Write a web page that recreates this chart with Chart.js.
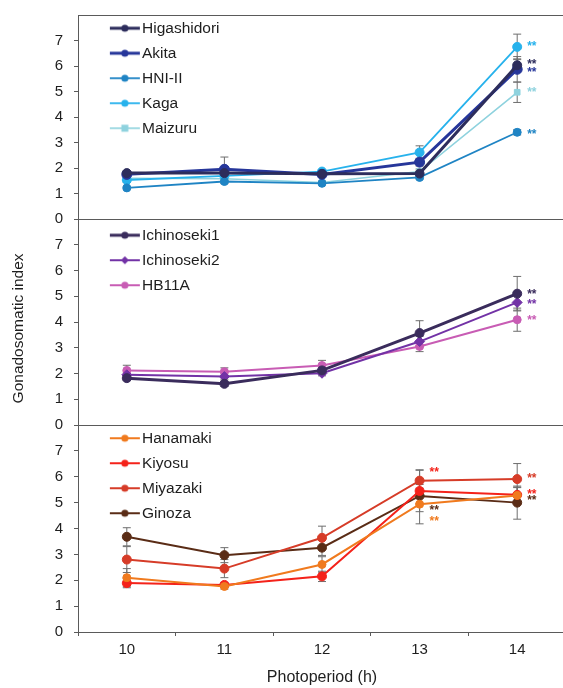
<!DOCTYPE html>
<html><head><meta charset="utf-8">
<script src="https://cdn.jsdelivr.net/npm/chart.js@4.4.1/dist/chart.umd.min.js"></script>
<style>
html,body{margin:0;padding:0;background:#fff;overflow:hidden;}
#wrap{position:relative;width:563px;height:688px;overflow:hidden;background:#fff;}
.pane{position:absolute;left:0;}
canvas{display:block;}
</style></head><body>
<div id="wrap">
<div class="pane" style="top:0px"><canvas id="cA" width="566" height="232"></canvas></div>
<div class="pane" style="top:212px"><canvas id="cB" width="566" height="222"></canvas></div>
<div class="pane" style="top:418px"><canvas id="cC" width="566" height="270"></canvas></div>
</div>
<script>
// ---------- data ----------
const categories = ['10', '11', '12', '13', '14'];
const yTicks = [0, 1, 2, 3, 4, 5, 6, 7];
const xTitle = 'Photoperiod (h)';
const yTitle = 'Gonadosomatic index';

// panel 1
const higashidori = [1.80, 1.80, 1.77, 1.78, 6.03];
const akita       = [1.75, 1.95, 1.75, 2.23, 5.87];
const hniII       = [1.22, 1.47, 1.40, 1.63, 3.40];
const kaga        = [1.53, 1.69, 1.86, 2.61, 6.75];
const maizuru     = [1.60, 1.58, 1.43, 1.86, 4.97];
const higashidoriErr = [0.08, 0.10, 0.08, 0.10, 0.25];
const akitaErr       = [0.08, 0.48, 0.10, 0.15, 0.50];
const hniIIErr       = [0.05, 0.08, 0.05, 0.06, 0.10];
const kagaErr        = [0.10, 0.10, 0.08, 0.26, 0.50];
const maizuruErr     = [0.08, 0.08, 0.06, 0.10, 0.40];

// panel 2
const ichinoseki1 = [1.82, 1.60, 2.12, 3.57, 5.10];
const ichinoseki2 = [1.95, 1.88, 2.01, 3.24, 4.76];
const hb11a       = [2.12, 2.07, 2.31, 3.05, 4.09];
const ichinoseki1Err = [0.10, 0.10, 0.15, 0.48, 0.67];
const ichinoseki2Err = [0.10, 0.10, 0.10, 0.20, 0.30];
const hb11aErr       = [0.20, 0.15, 0.20, 0.20, 0.45];

// panel 3
const hanamaki = [2.10, 1.76, 2.61, 4.94, 5.28];
const kiyosu   = [1.89, 1.82, 2.15, 5.45, 5.30];
const miyazaki = [2.80, 2.45, 3.64, 5.85, 5.91];
const ginoza   = [3.68, 2.97, 3.26, 5.26, 5.00];
const hanamakiErr = [0.35, 0.10, 0.30, 0.76, 0.30];
const kiyosuErr   = [0.18, 0.10, 0.20, 0.80, 0.30];
const miyazakiErr = [0.50, 0.35, 0.45, 0.42, 0.60];
const ginozaErr   = [0.35, 0.29, 0.30, 0.30, 0.64];

// significance marks: [series, category, value where the mark sits]
const sigTop = [['Kaga', '14', 6.88], ['Higashidori', '14', 6.17], ['Akita', '14', 5.86], ['Maizuru', '14', 5.07], ['HNI-II', '14', 3.42]];
const sigMid = [['Ichinoseki1', '14', 5.17], ['Ichinoseki2', '14', 4.79], ['HB11A', '14', 4.16]];
const sigBot = [['Kiyosu', '13', 6.26], ['Ginoza', '13', 4.82], ['Hanamaki', '13', 4.36], ['Miyazaki', '14', 6.03], ['Kiyosu', '14', 5.41], ['Ginoza', '14', 5.18]];

// ---------- styling ----------
const FONT = "'Liberation Sans', Arial, sans-serif";
const AXIS = '#5a5a5a';
const TEXT = '#1e1e1e';

function legendImage(color, lw, shape) {
  const c = document.createElement('canvas');
  c.width = 60; c.height = 14;
  const g = c.getContext('2d');
  g.strokeStyle = color; g.lineWidth = lw;
  g.beginPath(); g.moveTo(29, 7); g.lineTo(59, 7); g.stroke();
  g.fillStyle = color;
  g.beginPath();
  if (shape === 'rect') { g.rect(40.5, 3.5, 7, 7); }
  else if (shape === 'rectRot') { g.moveTo(44, 3); g.lineTo(48, 7); g.lineTo(44, 11); g.lineTo(40, 7); g.closePath(); }
  else { g.arc(44, 7, 3.6, 0, Math.PI * 2); }
  g.fill();
  return c;
}

function series(label, data, errors, color, lw, shape, radius) {
  return {
    label, data, errors,
    borderColor: color, backgroundColor: color,
    pointBackgroundColor: color, pointBorderColor: color,
    borderWidth: lw, pointRadius: radius || 4, pointBorderWidth: 1,
    pointStyle: shape || 'circle', tension: 0,
    legendImg: legendImage(color, lw, shape)
  };
}

const errorBars = {
  id: 'errorBars',
  beforeDatasetsDraw(chart) {
    const ctx = chart.ctx, ys = chart.scales.y;
    chart.data.datasets.forEach((ds, i) => {
      const meta = chart.getDatasetMeta(i);
      ds.errors.forEach((e, j) => {
        const x = meta.data[j].x;
        const y1 = ys.getPixelForValue(ds.data[j] + e);
        const y2 = ys.getPixelForValue(ds.data[j] - e);
        ctx.save();
        ctx.strokeStyle = '#6e6e6e'; ctx.lineWidth = 1;
        ctx.beginPath();
        ctx.moveTo(x, y1); ctx.lineTo(x, y2);
        ctx.moveTo(x - 4, y1); ctx.lineTo(x + 4, y1);
        ctx.moveTo(x - 4, y2); ctx.lineTo(x + 4, y2);
        ctx.stroke();
        ctx.restore();
      });
    });
  }
};

function sigPlugin(marks) {
  return {
    id: 'sigMarks',
    afterDatasetsDraw(chart) {
      const ctx = chart.ctx, xs = chart.scales.x, ys = chart.scales.y;
      marks.forEach(([name, cat, val]) => {
        const ds = chart.data.datasets.find(d => d.label === name);
        const x = xs.getPixelForValue(categories.indexOf(cat)) + 10;
        const y = ys.getPixelForValue(val) + 3;
        ctx.save();
        ctx.fillStyle = ds.borderColor;
        ctx.font = 'bold 12px ' + FONT;
        ctx.textAlign = 'left'; ctx.textBaseline = 'middle';
        ctx.fillText('**', x, y);
        ctx.restore();
      });
    }
  };
}

function makeChart(id, datasets, marks, opts) {
  const xScale = {
    type: 'category', offset: true, position: 'bottom',
    grid: { offset: true, drawOnChartArea: false, drawTicks: !!opts.bottom, tickLength: 4, color: AXIS },
    border: { color: AXIS, width: 1 },
    ticks: { display: !!opts.bottom, font: { family: FONT, size: 15 }, color: TEXT, padding: 5 },
    title: { display: !!opts.bottom, text: xTitle, font: { family: FONT, size: 16 }, color: TEXT, padding: { top: 4, bottom: 1 } },
    afterFit: s => { s.height = opts.bottom ? 56 : 0; s.paddingLeft = 0; s.paddingRight = 0; }
  };
  const scales = {
    x: xScale,
    y: {
      min: 0, max: 8,
      afterBuildTicks: s => { s.ticks = yTicks.map(v => ({ value: v })); },
      afterFit: s => { s.width = 78; s.paddingTop = 0; s.paddingBottom = 0; },
      grid: { drawOnChartArea: false, tickLength: 4, color: AXIS },
      border: { color: AXIS, width: 1 },
      ticks: { font: { family: FONT, size: 15 }, color: TEXT, padding: 11 },
      title: { display: !!opts.yTitle, text: yTitle + '   ', font: { family: FONT, size: 15.5 }, color: TEXT, padding: { top: 9, bottom: 0 } }
    }
  };
  if (opts.top) {
    scales.xt = {
      type: 'category', labels: categories, offset: true, position: 'top',
      afterFit: s => { s.height = 0; s.paddingLeft = 0; s.paddingRight = 0; },
      grid: { drawOnChartArea: false, drawTicks: false, color: AXIS },
      border: { color: AXIS, width: 1 },
      ticks: { display: false }
    };
  }
  return new Chart(document.getElementById(id), {
    type: 'line',
    data: { labels: categories, datasets },
    options: {
      responsive: false, animation: false, devicePixelRatio: 1,
      layout: { padding: opts.padding, autoPadding: false },
      scales,
      plugins: {
        tooltip: { enabled: false },
        legend: {
          position: 'chartArea', align: 'start', fullSize: false,
          title: { display: true, text: '', font: { size: 1, lineHeight: 1 }, padding: { top: opts.legendOffset, bottom: 0 } },
          labels: {
            usePointStyle: true, pointStyleWidth: 46.75, padding: 9.5,
            font: { family: FONT, size: 15.5 }, color: TEXT,
            generateLabels: chart => chart.data.datasets.map((ds, i) => ({
              text: ds.label, datasetIndex: i, hidden: false, fontColor: TEXT,
              pointStyle: ds.legendImg, lineWidth: 0,
              fillStyle: 'transparent', strokeStyle: 'transparent'
            }))
          }
        }
      }
    },
    plugins: [errorBars, sigPlugin(marks)]
  });
}

makeChart('cA', [
  series('Higashidori', higashidori, higashidoriErr, '#2d2d5c', 3, 'circle', 4.5),
  series('Akita', akita, akitaErr, '#26369a', 3, 'circle', 5),
  series('HNI-II', hniII, hniIIErr, '#1f84c4', 1.8, 'circle', 4),
  series('Kaga', kaga, kagaErr, '#27b2ec', 1.8, 'circle', 4.5),
  series('Maizuru', maizuru, maizuruErr, '#8ed2de', 1.6, 'rect', 4)
], sigTop, { top: true, legendOffset: 10, padding: { left: 0, right: 0, top: 15, bottom: 13 } });

makeChart('cB', [
  series('Ichinoseki1', ichinoseki1, ichinoseki1Err, '#3a2c5c', 3, 'circle', 4.5),
  series('Ichinoseki2', ichinoseki2, ichinoseki2Err, '#7232a6', 2, 'rectRot', 5),
  series('HB11A', hb11a, hb11aErr, '#c85cb4', 2, 'circle', 4)
], sigMid, { yTitle: true, legendOffset: 5, padding: { left: 0, right: 0, top: 7, bottom: 9 } });

makeChart('cC', [
  series('Hanamaki', hanamaki, hanamakiErr, '#f07a1e', 2, 'circle', 4),
  series('Kiyosu', kiyosu, kiyosuErr, '#f4221a', 2, 'circle', 4.5),
  series('Miyazaki', miyazaki, miyazakiErr, '#d63c28', 2, 'circle', 4.5),
  series('Ginoza', ginoza, ginozaErr, '#5a2c16', 2, 'circle', 4.5)
], sigBot, { bottom: true, legendOffset: 2, padding: { left: 0, right: 0, top: 7, bottom: 0 } });
</script>
</body></html>
